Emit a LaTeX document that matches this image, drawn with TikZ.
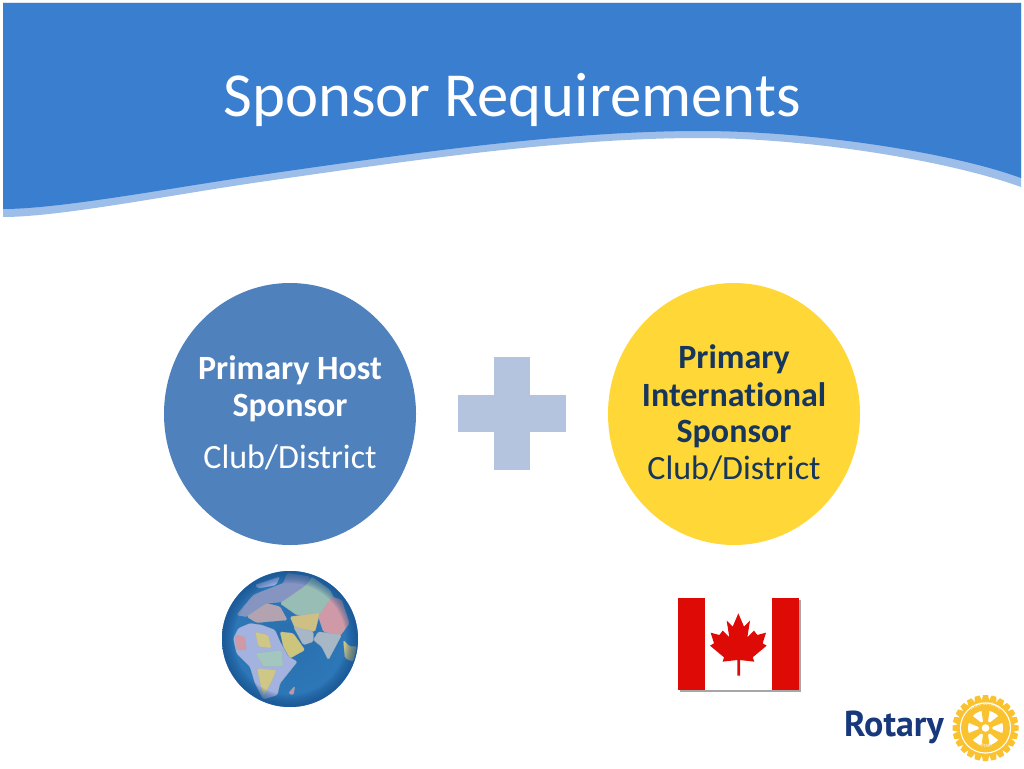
\documentclass[tikz,border=0pt]{standalone}
\usepackage{fontspec}
\setmainfont{Carlito}[Ligatures=NoCommon]
\newfontfamily\rotaryfont{PT Sans}
\usetikzlibrary{shapes.geometric,decorations.text}
\definecolor{banner}{HTML}{3A7ECF}
\definecolor{bannerlight}{HTML}{9DBEE8}
\definecolor{hostblue}{HTML}{4F81BD}
\definecolor{intlyellow}{HTML}{FFD737}
\definecolor{plusblue}{HTML}{B4C3DE}
\definecolor{navy}{HTML}{17365D}
\definecolor{flagred}{HTML}{DE0A06}
\definecolor{rotarygold}{HTML}{F9C22E}
\definecolor{rotarynavy}{HTML}{17397B}
\definecolor{oceanin}{HTML}{2B6FAE}
\definecolor{oceanout}{HTML}{2F7DBE}
\definecolor{oceanedge}{HTML}{174F8C}
\tikzset{>=stealth,
  sponsor/.style={ellipse,minimum width=252pt,minimum height=262pt,inner sep=0pt},
  sponsortext/.style={font=\fontsize{34}{34}\selectfont,anchor=center,inner sep=0pt},
  land/.style={draw=white!50!gray,line width=.2pt,rounded corners=1.5pt}}
\begin{document}
\begin{tikzpicture}[x=1pt,y=-1pt]
    \useasboundingbox (0,0) rectangle (1024,768);
    % banner
    \fill[bannerlight] (3,3) -- (1021,3) -- (1021,187)
        .. controls (950,161) and (810,138) .. (700,138)
        .. controls (560,138) and (400,162) .. (260,182)
        .. controls (170,195) and (60,217) .. (3,217) -- cycle;
    \fill[banner] (3,3) -- (1021,3) -- (1021,178)
        .. controls (950,152) and (810,131) .. (700,131)
        .. controls (560,131) and (400,155) .. (260,175)
        .. controls (170,188) and (60,209) .. (3,209) -- cycle;
    \node (title) at (512,100) [text=white,inner sep=0pt,font=\fontsize{62.7}{62.7}\selectfont] {Sponsor Requirements};

    % the two circles
    \node (host) at (290,414) [sponsor,fill=hostblue] {};
    \node (intl) at (734,414) [sponsor,fill=intlyellow] {};
    \node (hostA) at (290,370) [sponsortext,text=white] {\bfseries Primary Host};
    \node (hostB) at (290,408) [sponsortext,text=white] {\bfseries Sponsor};
    \node (hostC) at (290,457) [sponsortext,text=white] {Club/District};
    \node (intlA) at (734,359) [sponsortext,text=navy] {\bfseries Primary};
    \node (intlB) at (734,395) [sponsortext,text=navy] {\bfseries International};
    \node (intlC) at (734,434) [sponsortext,text=navy] {\bfseries Sponsor};
    \node (intlD) at (734,468) [sponsortext,text=navy] {Club/District};

    % plus
    \fill[plusblue] (458,395) rectangle (566,432);
    \fill[plusblue] (494,357) rectangle (530,470);

    % globe
    \begin{scope}
        \clip (290,639) circle (68);
        \shade[inner color=oceanin,outer color=oceanout] (222,571) rectangle (358,707);
        \begin{scope}[shift={(200,560)},scale=1/3]
            \fill[land,fill=white!80!blue] (165,75) -- (240,50) -- (228,75) -- (175,85) -- cycle;
            \fill[land,fill=blue!25!gray!60!white] (110,165) -- (160,105) -- (250,70) -- (262,40) -- (330,50) -- (320,75) -- (250,125) -- (200,130) -- (140,170) -- cycle;
            \fill[land,fill=green!25!gray!45!white] (240,130) -- (320,75) -- (335,50) -- (390,90) -- (425,160) -- (360,165) -- (290,165) -- cycle;
            \fill[land,fill=red!35!gray!45!white] (140,170) -- (200,130) -- (240,140) -- (262,180) -- (170,188) -- cycle;
            \fill[land,fill=yellow!45!orange!50!white] (270,170) -- (360,158) -- (345,215) -- (285,205) -- cycle;
            \fill[land,fill=red!35!white] (355,170) -- (395,110) -- (425,120) -- (448,190) -- (420,228) -- (370,215) -- cycle;
            \fill[land,fill=gray!40!white] (340,240) -- (355,215) -- (425,225) -- (385,300) -- (365,260) -- cycle;
            \fill[land,fill=yellow!60!orange!55!white] (430,240) -- (450,260) -- (470,258) -- (460,305) -- (435,295) -- cycle;
            \fill[land,fill=gray!50!blue!30!white] (100,235) -- (115,205) -- (150,190) -- (185,195) -- (225,210) -- (240,245) -- (265,290) -- (292,305) -- (260,345) -- (240,370) -- (232,405) -- (190,418) -- (165,370) -- (150,320) -- (110,280) -- cycle;
            \fill[land,fill=yellow!60!orange!50!white] (165,215) -- (205,225) -- (215,265) -- (175,260) -- cycle;
            \fill[land,fill=green!30!gray!35!white] (165,280) -- (245,270) -- (250,320) -- (190,320) -- cycle;
            \fill[land,fill=yellow!60!orange!50!white] (170,325) -- (230,330) -- (215,365) -- (190,410) -- cycle;
            \fill[land,fill=red!35!white] (105,225) -- (135,230) -- (140,270) -- (110,270) -- cycle;
            \fill[land,fill=yellow!60!orange!55!white] (240,215) -- (280,220) -- (315,270) -- (270,295) -- (250,260) -- cycle;
            \fill[land,fill=gray!40!white] (280,200) -- (340,215) -- (340,245) -- (310,255) -- cycle;
            \fill[land,fill=red!40!white] (265,400) -- (285,378) -- (280,405) -- cycle;
        \end{scope}
        \fill[oceanin,opacity=.22] (222,571) rectangle (358,707);
        \foreach \w in {3,6,...,24}
            \draw[oceanedge,opacity=.13,line width=\w pt] (290,639) circle (68);
    \end{scope}

    % flag
    \fill[gray!70] (680,600) rectangle (801,692);
    \fill[white] (678,598) rectangle (799,690);
    \fill[flagred] (678,598) rectangle (705,690);
    \fill[flagred] (772,598) rectangle (799,690);
    \begin{scope}[shift={(660,580)},scale=1/3]
        \fill[flagred] (235,100) -- (252,140) -- (270,122) -- (262,172) -- (282,152) -- (292,165) -- (318,158) -- (308,190) -- (320,197) -- (278,232) -- (283,245) -- (240,240) -- (240,287) -- (232,287) -- (232,240) -- (188,245) -- (192,232) -- (150,197) -- (162,190) -- (152,158) -- (178,165) -- (188,152) -- (208,172) -- (200,122) -- (218,140) -- cycle;
    \end{scope}

    % logo
    \node (rotary) at (894,727) [inner sep=0pt,text=rotarynavy,font=\rotaryfont\bfseries\fontsize{36}{36}\selectfont] {Rotary};
    \coordinate (wheel) at (985.5,728);
    \foreach \a in {0,15,...,345}
        \fill[rotarygold,rotate around={\a:(wheel)}] (983,695) -- (988,695) -- (989.5,702) -- (981.5,702) -- cycle;
    \fill[rotarygold] (wheel) circle (28);
    \fill[white] (wheel) circle (25.6);
    \fill[rotarygold] (wheel) circle (24.4);
    \fill[white] (wheel) circle (17.5);
    \foreach \a in {30,90,...,330}
        \fill[rotarygold,rotate around={\a:(wheel)}] (wheel) ++(0,-1.6) -- ++(19,-2.6) -- ++(0,8.4) -- ++(-19,-2.6) -- cycle;
    \fill[rotarygold] (wheel) circle (7);
    \fill[white] (wheel) circle (3.8);
    \path[postaction={decorate,decoration={text along path,text align=center,
        text={|\fontsize{4.6}{4.6}\selectfont\color{white}|ROTARY}}}]
        (wheel) ++(150:19.4) arc[start angle=150,end angle=30,radius=19.4];
    \path[postaction={decorate,decoration={text along path,text align=center,
        text={|\fontsize{4.6}{4.6}\selectfont\color{white}|INTERNATIONAL}}}]
        (wheel) ++(-155:22.6) arc[start angle=-155,end angle=-25,radius=22.6];
\end{tikzpicture}
\end{document}
